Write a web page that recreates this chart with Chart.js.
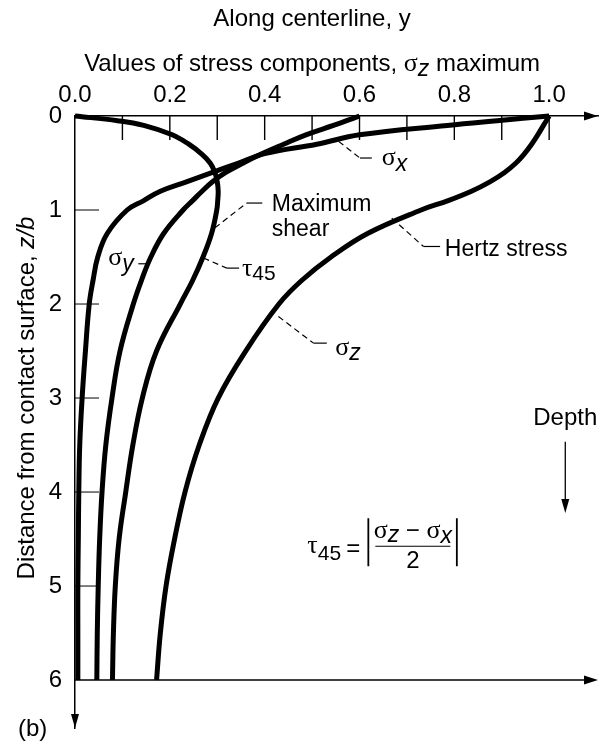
<!DOCTYPE html>
<html>
<head>
<meta charset="utf-8">
<script src="https://cdn.jsdelivr.net/npm/chart.js@4.4.1/dist/chart.umd.min.js"></script>
<style>
  html, body { margin: 0; padding: 0; background: #fff; }
</style>
</head>
<body>
<canvas id="grafico" width="603" height="748"></canvas>
<script>
// DATA (depth z/b and stress / sigma_z max)
const depth  = [0, 0.05, 0.1, 0.2, 0.3, 0.4, 0.5, 0.6, 0.7, 0.8, 0.9, 1.0, 1.25, 1.5, 1.75, 2, 2.5, 3, 3.5, 4, 4.5, 5, 5.5, 6];
const sigmaZ = [1.0, 0.994, 0.988, 0.976, 0.963, 0.948, 0.93, 0.906, 0.875, 0.836, 0.787, 0.73, 0.617, 0.54, 0.478, 0.43, 0.36, 0.302, 0.262, 0.232, 0.21, 0.192, 0.18, 0.172];
const sigmaX = [1.0, 0.89, 0.785, 0.60, 0.51, 0.40, 0.345, 0.29, 0.235, 0.18, 0.145, 0.11, 0.068, 0.048, 0.038, 0.03, 0.022, 0.015, 0.01, 0.008, 0.007, 0.006, 0.006, 0.006];
const sigmaY = [0.6, 0.573, 0.545, 0.487, 0.44, 0.395, 0.355, 0.318, 0.29, 0.268, 0.248, 0.228, 0.187, 0.16, 0.14, 0.123, 0.095, 0.078, 0.065, 0.057, 0.052, 0.049, 0.047, 0.046];
const tau    = [0, 0.09, 0.145, 0.205, 0.24, 0.266, 0.285, 0.295, 0.30, 0.302, 0.301, 0.299, 0.288, 0.27, 0.248, 0.222, 0.172, 0.142, 0.122, 0.107, 0.093, 0.085, 0.081, 0.079];

// TICKS
const xTicks = [0, 0.2, 0.4, 0.6, 0.8, 1.0];
const xMinor = [0.1, 0.2, 0.3, 0.4, 0.5, 0.6, 0.7, 0.8, 0.9, 1.0];
const yTicks = [0, 1, 2, 3, 4, 5, 6];

// FONTS
const FAM = '"Liberation Sans", Arial, sans-serif';
const F  = '24px ' + FAM;
const FL = '23px ' + FAM;
const FI = 'italic 23px ' + FAM;
const FS = '21px ' + FAM;
const G  = '26px "Liberation Serif", serif';

function serie(vals) {
    return {
        data: depth.map((z, i) => ({ x: vals[i], y: z })),
        borderColor: '#000',
        borderWidth: 5,
        pointRadius: 0,
        fill: false,
        tension: 0.4,
        clip: false
    };
}

function seg(ctx, x1, y1, x2, y2) {
    ctx.beginPath();
    ctx.moveTo(x1, y1);
    ctx.lineTo(x2, y2);
    ctx.stroke();
}

function arrow(ctx, x, y, dir) {
    ctx.beginPath();
    if (dir === 'right') {
        ctx.moveTo(x, y); ctx.lineTo(x - 14, y - 4.5); ctx.lineTo(x - 14, y + 4.5);
    } else {
        ctx.moveTo(x, y); ctx.lineTo(x - 4, y - 14); ctx.lineTo(x + 4, y - 14);
    }
    ctx.closePath();
    ctx.fill();
}

function runs(ctx, parts, x, y, align) {
    let w = 0;
    parts.forEach(p => { ctx.font = p[1]; w += ctx.measureText(p[0]).width; });
    let cx = align === 'center' ? x - w / 2 : x;
    parts.forEach(p => {
        ctx.font = p[1];
        ctx.fillText(p[0], cx, y + (p[2] || 0));
        cx += ctx.measureText(p[0]).width;
    });
}

// LABELS AND LEADERS (data coordinates)
const leaders = [
    { from: [0.556, 0.27], bend: [0.601, 0.447], end: 0.626 },
    { from: [0.295, 1.19], bend: [0.362, 0.926], end: 0.395 },
    { from: [0.271, 1.51], bend: [0.320, 1.618], end: 0.346 },
    { from: [0.429, 2.133], bend: [0.503, 2.416], end: 0.531 },
    { from: [0.668, 1.086], bend: [0.735, 1.388], end: 0.770 }
];
const labels = [
    { at: [0.647, 0.518], parts: [['σ', G], ['x', FI, 6]] },
    { at: [0.415, 1.015], parts: [['Maximum', FL]] },
    { at: [0.415, 1.274], parts: [['shear', FL]] },
    { at: [0.352, 1.70], parts: [['τ', G], ['45', FS, 4]] },
    { at: [0.0703, 1.583], parts: [['σ', G], ['y', FI, 6]] },
    { at: [0.549, 2.541], parts: [['σ', G], ['z', FI, 5]] },
    { at: [0.78, 1.494], parts: [['Hertz stress', FL]] }
];

const decor = {
    id: 'decor',
    beforeDatasetsDraw(chart) {
        const { ctx, chartArea: a, scales: { x, y } } = chart;
        ctx.save();
        ctx.strokeStyle = '#000';
        ctx.fillStyle = '#000';
        // ticks pointing inward
        ctx.lineWidth = 1.4;
        xMinor.forEach(v => {
            const px = x.getPixelForValue(v);
            seg(ctx, px, a.top, px, a.top + 24);
        });
        ctx.lineWidth = 1;
        yTicks.filter(v => v > 0 && v < 6).forEach(v => {
            const py = y.getPixelForValue(v);
            seg(ctx, a.left, py, a.left + 24, py);
        });
        // bottom axis at z/b = 6
        ctx.lineWidth = 1.5;
        const yb = y.getPixelForValue(6);
        seg(ctx, a.left, yb, a.right - 4, yb);
        arrow(ctx, a.right, yb, 'right');
        arrow(ctx, a.right, a.top, 'right');
        arrow(ctx, a.left, a.bottom, 'down');
        ctx.restore();
    },
    afterDraw(chart) {
        const { ctx, scales: { x, y } } = chart;
        const P = (xv, zv) => [x.getPixelForValue(xv), y.getPixelForValue(zv)];
        ctx.save();
        ctx.fillStyle = '#000';
        ctx.strokeStyle = '#000';
        ctx.textAlign = 'left';
        ctx.textBaseline = 'alphabetic';

        // titles
        const cx = x.getPixelForValue(0.5);
        runs(ctx, [['Along centerline, y', F]], cx, 26, 'center');
        runs(ctx, [['Values of stress components, ', F], ['σ', G], ['z', FI, 5], [' maximum', F]], cx, 71, 'center');

        ctx.save();
        ctx.translate(34, y.getPixelForValue(3));
        ctx.rotate(-Math.PI / 2);
        runs(ctx, [['Distance from contact surface, ', F], ['z/b', 'italic 24px ' + FAM]], 0, 0, 'center');
        ctx.restore();

        runs(ctx, [['(b)', F]], 18, 736);

        // leaders
        leaders.forEach(l => {
            const p0 = P(...l.from), p1 = P(...l.bend);
            ctx.lineWidth = 1.2;
            ctx.setLineDash([6, 4]);
            seg(ctx, p0[0], p0[1], p1[0], p1[1]);
            ctx.setLineDash([]);
            seg(ctx, p1[0], p1[1], x.getPixelForValue(l.end), p1[1]);
        });
        // sigma_y short tick
        ctx.lineWidth = 1.2;
        const sy = P(0.1335, 1.572);
        seg(ctx, sy[0], sy[1], x.getPixelForValue(0.152), sy[1]);

        labels.forEach(l => {
            const p = P(...l.at);
            runs(ctx, l.parts, p[0], p[1]);
        });

        // depth arrow
        const d0 = P(1.034, 3.286);
        runs(ctx, [['Depth', F]], d0[0], d0[1], 'center');
        const d1 = P(1.034, 3.466), d2 = P(1.034, 4.222);
        ctx.lineWidth = 1.3;
        seg(ctx, d1[0], d1[1], d2[0], d2[1] - 10);
        arrow(ctx, d2[0], d2[1], 'down');

        // formula
        const f = P(0.49, 4.651);
        runs(ctx, [['τ', G], ['45', FS, 7]], f[0], f[1]);
        runs(ctx, [['=', F]], f[0] + 46, f[1] + 3, 'center');
        ctx.lineWidth = 1.8;
        seg(ctx, f[0] + 61, f[1] - 35, f[0] + 61, f[1] + 13);
        seg(ctx, f[0] + 149.5, f[1] - 35, f[0] + 149.5, f[1] + 13);
        ctx.lineWidth = 1.2;
        seg(ctx, f[0] + 68, f[1] - 7, f[0] + 143, f[1] - 7);
        runs(ctx, [['σ', G], ['z', FI, 4], [' − ', F], ['σ', G], ['x', FI, 5]], f[0] + 105.5, f[1] - 15, 'center');
        runs(ctx, [['2', F]], f[0] + 105.5, f[1] + 15, 'center');
        ctx.restore();
    }
};

// CHART
new Chart(document.getElementById('grafico'), {
    type: 'line',
    data: {
        datasets: [serie(sigmaZ), serie(sigmaX), serie(sigmaY), serie(tau)]
    },
    options: {
        indexAxis: 'y',
        responsive: false,
        animation: false,
        devicePixelRatio: 1,
        layout: { padding: { top: 0, left: 0, right: 5, bottom: 20 } },
        plugins: { legend: { display: false }, tooltip: { enabled: false } },
        scales: {
            x: {
                type: 'linear',
                position: 'top',
                min: 0,
                max: 1.103,
                afterFit: s => { s.height = 116; s.paddingLeft = 0; s.paddingRight = 0; },
                afterBuildTicks: s => { s.ticks = xTicks.map(v => ({ value: v })); },
                ticks: {
                    color: '#000',
                    font: { family: FAM, size: 24 },
                    padding: 6,
                    maxRotation: 0,
                    autoSkip: false,
                    callback: v => Number(v).toFixed(1)
                },
                grid: { display: false, drawTicks: false },
                border: { display: true, color: '#000', width: 1.5 }
            },
            y: {
                type: 'linear',
                position: 'left',
                reverse: true,
                min: 0,
                max: 6.51,
                afterFit: s => { s.width = 75; s.paddingTop = 0; s.paddingBottom = 0; },
                afterBuildTicks: s => { s.ticks = yTicks.map(v => ({ value: v })); },
                ticks: {
                    color: '#000',
                    font: { family: FAM, size: 24 },
                    padding: 13,
                    autoSkip: false,
                    callback: v => String(v)
                },
                grid: { display: false, drawTicks: false },
                border: { display: true, color: '#000', width: 1.5 }
            }
        }
    },
    plugins: [decor]
});
</script>
</body>
</html>
